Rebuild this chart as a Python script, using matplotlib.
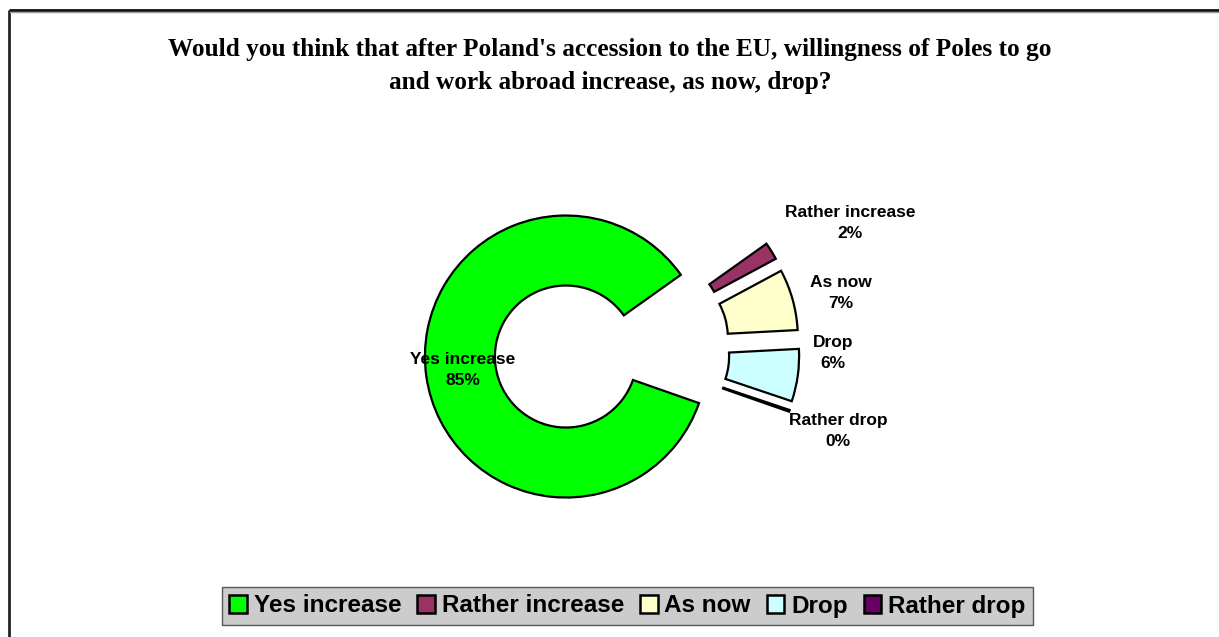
import matplotlib
matplotlib.use("Agg")
import matplotlib.pyplot as plt
from matplotlib.patches import Patch

# ---- data ----
categories = ["Yes increase", "Rather increase", "As now", "Drop", "Rather drop"]
values = [84.8, 2.0, 7.0, 6.0, 0.2]
colors = ["#00FF00", "#993366", "#FFFFCC", "#CCFFFF", "#660066"]
title = ("Would you think that after Poland's accession to the EU, willingness of Poles to go\n"
         "and work abroad increase, as now, drop?")

# ---- layout (pixel coordinates, y measured from top) ----
W, H = 1219, 637
cx, cy = 612, 350
R = 141
ring = 70
explode_frac = 0.33
label_pos = [(463, 370), (850, 223), (841, 293), (833, 353), (838, 431)]

fig = plt.figure(figsize=(W / 100, H / 100), dpi=100)
ax = fig.add_axes([0, 0, 1, 1])

total = sum(values)
ax.pie(values, colors=colors, startangle=-19.3, counterclock=False,
       radius=R, center=(cx, H - cy),
       explode=[explode_frac * R] * len(values),
       wedgeprops=dict(width=ring, edgecolor="black", linewidth=1.6))

ax.set_xlim(0, W)
ax.set_ylim(0, H)
ax.set_aspect("auto")
ax.axis("off")

for cat, v, (lx, ly) in zip(categories, values, label_pos):
    ax.text(lx, H - ly, f"{cat}\n{round(v / total * 100)}%", ha="center", va="center",
            multialignment="center", fontsize=12.5, fontweight="bold",
            family="Liberation Sans", linespacing=1.5, color="black")

ax.text(610, H - 66, title, ha="center", va="center", multialignment="center",
        fontsize=18.2, fontweight="bold", family="Liberation Serif", linespacing=1.55)

# chart border (top and left)
ax.plot([9, 9], [0, H - 10], color="#222222", lw=2, solid_capstyle="butt")
ax.plot([9, W], [H - 10, H - 10], color="#111111", lw=2, solid_capstyle="butt")
ax.plot([10, W], [H - 11.8, H - 11.8], color="#999999", lw=1)

handles = [Patch(facecolor=c, edgecolor="black", linewidth=1.8) for c in colors]
leg = fig.legend(handles, categories, loc="center",
                 bbox_to_anchor=(627.5 / W, 1 - 606 / H), ncol=5,
                 prop=dict(family="Liberation Sans", weight="bold", size=17.5),
                 frameon=True, fancybox=False, edgecolor="#333333",
                 handlelength=0.72, handleheight=0.72, handletextpad=0.28,
                 columnspacing=0.66, borderpad=0.3, borderaxespad=0)
leg.get_frame().set_facecolor("#C0C0C0")
leg.get_frame().set_linewidth(1.0)

fig.savefig("out.png", dpi=100, facecolor="white")
